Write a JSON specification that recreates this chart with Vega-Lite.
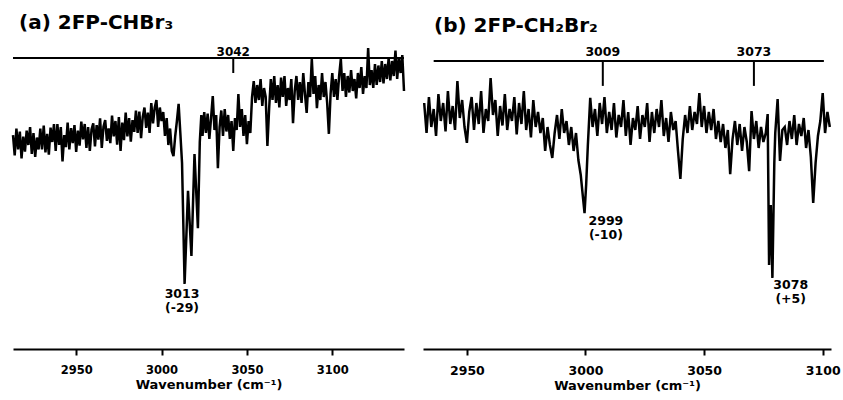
{
  "$schema": "https://vega.github.io/schema/vega-lite/v6.json",
  "background": "white",
  "padding": {"left": 8, "top": 13, "right": 5, "bottom": 0},
  "spacing": 19,
  "bounds": "flush",
  "config": {
    "view": {"stroke": null},
    "font": "DejaVu Sans",
    "axis": {"domainColor": "black", "domainWidth": 2, "tickColor": "black", "tickWidth": 2, "tickSize": 6, "labelColor": "black", "labelFont": "DejaVu Sans", "labelFontWeight": "bold", "labelFontSize": 12, "labelPadding": 9, "titleFont": "DejaVu Sans", "titleFontWeight": "bold", "titleFontSize": 13, "titleColor": "black", "titlePadding": 3, "grid": false},
    "title": {"font": "DejaVu Sans", "fontWeight": "bold", "fontSize": 20, "color": "black", "anchor": "start", "frame": "group", "offset": 10}
  },
  "datasets": {
    "a": [
      {"wn": 2913, "abs": 71.3}, {"wn": 2914, "abs": 64.5}, {"wn": 2915, "abs": 73.5}, {"wn": 2916, "abs": 66.5}, {"wn": 2917, "abs": 72.5},
      {"wn": 2918, "abs": 63.5}, {"wn": 2919, "abs": 70.8}, {"wn": 2920, "abs": 65.8}, {"wn": 2921, "abs": 72.8}, {"wn": 2922, "abs": 68},
      {"wn": 2923, "abs": 74}, {"wn": 2924, "abs": 65}, {"wn": 2925, "abs": 72}, {"wn": 2926, "abs": 64}, {"wn": 2927, "abs": 70.5},
      {"wn": 2928, "abs": 66.5}, {"wn": 2929, "abs": 73.5}, {"wn": 2930, "abs": 66.5}, {"wn": 2931, "abs": 74.5}, {"wn": 2932, "abs": 65.5},
      {"wn": 2933, "abs": 71.7}, {"wn": 2934, "abs": 64.8}, {"wn": 2935, "abs": 73.8}, {"wn": 2936, "abs": 69}, {"wn": 2937, "abs": 75},
      {"wn": 2938, "abs": 66}, {"wn": 2939, "abs": 75}, {"wn": 2940, "abs": 68}, {"wn": 2941, "abs": 74}, {"wn": 2942, "abs": 62.5},
      {"wn": 2943, "abs": 71.3}, {"wn": 2944, "abs": 67.3}, {"wn": 2945, "abs": 75.5}, {"wn": 2946, "abs": 66.5}, {"wn": 2947, "abs": 73.6},
      {"wn": 2948, "abs": 68.6}, {"wn": 2949, "abs": 74.6}, {"wn": 2950, "abs": 65.7}, {"wn": 2951, "abs": 72.8}, {"wn": 2952, "abs": 67.8},
      {"wn": 2953, "abs": 75.8}, {"wn": 2954, "abs": 69.9}, {"wn": 2955, "abs": 75}, {"wn": 2956, "abs": 67}, {"wn": 2957, "abs": 74},
      {"wn": 2958, "abs": 66}, {"wn": 2959, "abs": 73.2}, {"wn": 2960, "abs": 75.2}, {"wn": 2961, "abs": 67.5}, {"wn": 2962, "abs": 74.6},
      {"wn": 2963, "abs": 69.8}, {"wn": 2964, "abs": 76.9}, {"wn": 2965, "abs": 67}, {"wn": 2966, "abs": 74.1}, {"wn": 2967, "abs": 76.3},
      {"wn": 2968, "abs": 69.4}, {"wn": 2969, "abs": 73.5}, {"wn": 2970, "abs": 68.6}, {"wn": 2971, "abs": 77.8}, {"wn": 2972, "abs": 70.9},
      {"wn": 2973, "abs": 76}, {"wn": 2974, "abs": 68.1}, {"wn": 2975, "abs": 77.3}, {"wn": 2976, "abs": 66}, {"wn": 2977, "abs": 75.5},
      {"wn": 2978, "abs": 69.6}, {"wn": 2979, "abs": 78.8}, {"wn": 2980, "abs": 70.9}, {"wn": 2981, "abs": 77}, {"wn": 2982, "abs": 69.1},
      {"wn": 2983, "abs": 76.3}, {"wn": 2984, "abs": 72.4}, {"wn": 2985, "abs": 79.5}, {"wn": 2986, "abs": 72}, {"wn": 2987, "abs": 79.1},
      {"wn": 2988, "abs": 70.3}, {"wn": 2989, "abs": 77.4}, {"wn": 2990, "abs": 80.5}, {"wn": 2991, "abs": 73.7}, {"wn": 2992, "abs": 78.8},
      {"wn": 2993, "abs": 72}, {"wn": 2994, "abs": 82}, {"wn": 2995, "abs": 75.2}, {"wn": 2996, "abs": 80.4}, {"wn": 2997, "abs": 83},
      {"wn": 2998, "abs": 74}, {"wn": 2999, "abs": 80.5}, {"wn": 3000, "abs": 76}, {"wn": 3001, "abs": 79}, {"wn": 3002, "abs": 71},
      {"wn": 3003, "abs": 77}, {"wn": 3004, "abs": 68}, {"wn": 3005, "abs": 73.5}, {"wn": 3006, "abs": 66}, {"wn": 3007, "abs": 64.3},
      {"wn": 3008, "abs": 71}, {"wn": 3009, "abs": 76}, {"wn": 3010, "abs": 81.7}, {"wn": 3011, "abs": 72}, {"wn": 3012, "abs": 62},
      {"wn": 3013.5, "abs": 21.7}, {"wn": 3015.5, "abs": 52.7}, {"wn": 3017.5, "abs": 31}, {"wn": 3019.3, "abs": 65}, {"wn": 3021.3, "abs": 40.3},
      {"wn": 3022.4, "abs": 69}, {"wn": 3023.3, "abs": 78}, {"wn": 3024, "abs": 71}, {"wn": 3025, "abs": 79}, {"wn": 3026, "abs": 72},
      {"wn": 3027, "abs": 78.5}, {"wn": 3028, "abs": 70}, {"wn": 3029, "abs": 77}, {"wn": 3030, "abs": 84.3}, {"wn": 3031, "abs": 73},
      {"wn": 3032, "abs": 78}, {"wn": 3033, "abs": 60.3}, {"wn": 3034, "abs": 74}, {"wn": 3035, "abs": 79.5}, {"wn": 3036, "abs": 71},
      {"wn": 3037, "abs": 80}, {"wn": 3038, "abs": 72.5}, {"wn": 3039, "abs": 78}, {"wn": 3040, "abs": 70}, {"wn": 3041, "abs": 76},
      {"wn": 3042, "abs": 66}, {"wn": 3043, "abs": 77}, {"wn": 3044, "abs": 73}, {"wn": 3045, "abs": 85}, {"wn": 3046, "abs": 74},
      {"wn": 3047, "abs": 80}, {"wn": 3048, "abs": 71}, {"wn": 3049, "abs": 78}, {"wn": 3050, "abs": 68.3}, {"wn": 3051, "abs": 76},
      {"wn": 3052, "abs": 72}, {"wn": 3053, "abs": 84}, {"wn": 3054, "abs": 89.3}, {"wn": 3055, "abs": 82}, {"wn": 3056, "abs": 88},
      {"wn": 3057, "abs": 83}, {"wn": 3058, "abs": 90}, {"wn": 3059, "abs": 81}, {"wn": 3060, "abs": 87}, {"wn": 3061, "abs": 84},
      {"wn": 3062, "abs": 67.7}, {"wn": 3063, "abs": 80}, {"wn": 3064, "abs": 90}, {"wn": 3065, "abs": 83}, {"wn": 3066, "abs": 91},
      {"wn": 3067, "abs": 82}, {"wn": 3068, "abs": 88}, {"wn": 3069, "abs": 80.5}, {"wn": 3070, "abs": 90.5}, {"wn": 3071, "abs": 84},
      {"wn": 3072, "abs": 91}, {"wn": 3073, "abs": 81}, {"wn": 3074, "abs": 87}, {"wn": 3075, "abs": 83}, {"wn": 3076, "abs": 90},
      {"wn": 3077, "abs": 75.3}, {"wn": 3078, "abs": 86}, {"wn": 3079, "abs": 91}, {"wn": 3080, "abs": 83}, {"wn": 3081, "abs": 89},
      {"wn": 3082, "abs": 82}, {"wn": 3083, "abs": 92}, {"wn": 3084, "abs": 85}, {"wn": 3085, "abs": 78.7}, {"wn": 3086, "abs": 89},
      {"wn": 3087, "abs": 84}, {"wn": 3088, "abs": 96.7}, {"wn": 3089, "abs": 85}, {"wn": 3090, "abs": 91}, {"wn": 3091, "abs": 80.3},
      {"wn": 3092, "abs": 88}, {"wn": 3093, "abs": 83}, {"wn": 3094, "abs": 92}, {"wn": 3095, "abs": 84}, {"wn": 3096, "abs": 89},
      {"wn": 3097, "abs": 82}, {"wn": 3098, "abs": 71.7}, {"wn": 3099, "abs": 85}, {"wn": 3100, "abs": 92}, {"wn": 3101, "abs": 84},
      {"wn": 3102, "abs": 90}, {"wn": 3103, "abs": 83}, {"wn": 3104, "abs": 91}, {"wn": 3105, "abs": 96.7}, {"wn": 3106, "abs": 86},
      {"wn": 3107, "abs": 92}, {"wn": 3108, "abs": 84}, {"wn": 3109, "abs": 91}, {"wn": 3110, "abs": 85.5}, {"wn": 3111, "abs": 93},
      {"wn": 3112, "abs": 86}, {"wn": 3113, "abs": 90}, {"wn": 3114, "abs": 83.5}, {"wn": 3115, "abs": 92}, {"wn": 3116, "abs": 87},
      {"wn": 3117, "abs": 94}, {"wn": 3118, "abs": 85}, {"wn": 3119, "abs": 91}, {"wn": 3120, "abs": 87}, {"wn": 3121, "abs": 100.3},
      {"wn": 3122, "abs": 88}, {"wn": 3123, "abs": 93}, {"wn": 3124, "abs": 87}, {"wn": 3125, "abs": 95}, {"wn": 3126, "abs": 88},
      {"wn": 3127, "abs": 94.5}, {"wn": 3128, "abs": 89}, {"wn": 3129, "abs": 96}, {"wn": 3130, "abs": 88.5}, {"wn": 3131, "abs": 95},
      {"wn": 3132, "abs": 90}, {"wn": 3133, "abs": 97}, {"wn": 3134, "abs": 89.5}, {"wn": 3135, "abs": 96}, {"wn": 3136, "abs": 91},
      {"wn": 3137, "abs": 99.5}, {"wn": 3138, "abs": 90}, {"wn": 3139, "abs": 97}, {"wn": 3140, "abs": 92}, {"wn": 3141, "abs": 98},
      {"wn": 3142, "abs": 86}
    ],
    "b": [
      {"wn": 2932, "abs": 82}, {"wn": 2933, "abs": 72}, {"wn": 2934, "abs": 84}, {"wn": 2935, "abs": 74}, {"wn": 2936, "abs": 80},
      {"wn": 2937, "abs": 71}, {"wn": 2938, "abs": 85}, {"wn": 2939, "abs": 76}, {"wn": 2940, "abs": 82}, {"wn": 2941, "abs": 72.5},
      {"wn": 2942, "abs": 86}, {"wn": 2943, "abs": 75}, {"wn": 2944, "abs": 81}, {"wn": 2945, "abs": 73}, {"wn": 2946, "abs": 89.3},
      {"wn": 2947, "abs": 77}, {"wn": 2948, "abs": 83}, {"wn": 2949, "abs": 74}, {"wn": 2950, "abs": 68.7}, {"wn": 2951, "abs": 79},
      {"wn": 2952, "abs": 84}, {"wn": 2953, "abs": 73}, {"wn": 2954, "abs": 82}, {"wn": 2955, "abs": 75}, {"wn": 2956, "abs": 86},
      {"wn": 2957, "abs": 72}, {"wn": 2958, "abs": 80}, {"wn": 2959, "abs": 76}, {"wn": 2960, "abs": 90.3}, {"wn": 2961, "abs": 78},
      {"wn": 2962, "abs": 83}, {"wn": 2963, "abs": 71}, {"wn": 2964, "abs": 81}, {"wn": 2965, "abs": 74.5}, {"wn": 2966, "abs": 85},
      {"wn": 2967, "abs": 73}, {"wn": 2968, "abs": 80}, {"wn": 2969, "abs": 76}, {"wn": 2970, "abs": 84}, {"wn": 2971, "abs": 71.5},
      {"wn": 2972, "abs": 82}, {"wn": 2973, "abs": 75}, {"wn": 2974, "abs": 86}, {"wn": 2975, "abs": 73}, {"wn": 2976, "abs": 80},
      {"wn": 2977, "abs": 70.5}, {"wn": 2978, "abs": 83}, {"wn": 2979, "abs": 74}, {"wn": 2980, "abs": 79}, {"wn": 2981, "abs": 72},
      {"wn": 2982, "abs": 77}, {"wn": 2983, "abs": 66}, {"wn": 2984, "abs": 74}, {"wn": 2985, "abs": 68}, {"wn": 2986, "abs": 63.7},
      {"wn": 2987, "abs": 72}, {"wn": 2988, "abs": 78}, {"wn": 2989, "abs": 70}, {"wn": 2990, "abs": 80}, {"wn": 2991, "abs": 72},
      {"wn": 2992, "abs": 76}, {"wn": 2993, "abs": 68}, {"wn": 2994, "abs": 74}, {"wn": 2995, "abs": 66}, {"wn": 2996, "abs": 72},
      {"wn": 2997, "abs": 63}, {"wn": 2998, "abs": 58}, {"wn": 2999, "abs": 50}, {"wn": 2999.6, "abs": 45.3}, {"wn": 3000.3, "abs": 55},
      {"wn": 3001, "abs": 68}, {"wn": 3002, "abs": 83.7}, {"wn": 3003, "abs": 74}, {"wn": 3004, "abs": 80}, {"wn": 3005, "abs": 71},
      {"wn": 3006, "abs": 82}, {"wn": 3007, "abs": 75}, {"wn": 3008, "abs": 84}, {"wn": 3009, "abs": 72}, {"wn": 3010, "abs": 79},
      {"wn": 3011, "abs": 73}, {"wn": 3012, "abs": 82}, {"wn": 3013, "abs": 70.5}, {"wn": 3014, "abs": 78}, {"wn": 3015, "abs": 74},
      {"wn": 3016, "abs": 83}, {"wn": 3017, "abs": 71}, {"wn": 3018, "abs": 79}, {"wn": 3019, "abs": 68}, {"wn": 3020, "abs": 77},
      {"wn": 3021, "abs": 73}, {"wn": 3022, "abs": 81}, {"wn": 3023, "abs": 70}, {"wn": 3024, "abs": 78}, {"wn": 3025, "abs": 74},
      {"wn": 3026, "abs": 82}, {"wn": 3027, "abs": 69}, {"wn": 3028, "abs": 79}, {"wn": 3029, "abs": 72}, {"wn": 3030, "abs": 80},
      {"wn": 3031, "abs": 74}, {"wn": 3032, "abs": 83}, {"wn": 3033, "abs": 71}, {"wn": 3034, "abs": 77}, {"wn": 3035, "abs": 69},
      {"wn": 3036, "abs": 79}, {"wn": 3037, "abs": 73}, {"wn": 3038, "abs": 76}, {"wn": 3039, "abs": 66}, {"wn": 3040, "abs": 56.7},
      {"wn": 3041, "abs": 70}, {"wn": 3042, "abs": 78}, {"wn": 3043, "abs": 72}, {"wn": 3044, "abs": 81}, {"wn": 3045, "abs": 73},
      {"wn": 3046, "abs": 79}, {"wn": 3047, "abs": 75}, {"wn": 3048, "abs": 85.3}, {"wn": 3049, "abs": 74}, {"wn": 3050, "abs": 81},
      {"wn": 3051, "abs": 72}, {"wn": 3052, "abs": 79}, {"wn": 3053, "abs": 73}, {"wn": 3054, "abs": 80}, {"wn": 3055, "abs": 70},
      {"wn": 3056, "abs": 76}, {"wn": 3057, "abs": 69}, {"wn": 3058, "abs": 75}, {"wn": 3059, "abs": 67}, {"wn": 3060, "abs": 73},
      {"wn": 3061, "abs": 58.3}, {"wn": 3062, "abs": 70}, {"wn": 3063, "abs": 76}, {"wn": 3064, "abs": 68}, {"wn": 3065, "abs": 75},
      {"wn": 3066, "abs": 66}, {"wn": 3067, "abs": 74}, {"wn": 3068, "abs": 69}, {"wn": 3069, "abs": 59.3}, {"wn": 3070, "abs": 79.3},
      {"wn": 3071, "abs": 70}, {"wn": 3072, "abs": 76}, {"wn": 3073, "abs": 67}, {"wn": 3074, "abs": 74}, {"wn": 3075, "abs": 69},
      {"wn": 3076, "abs": 72}, {"wn": 3076.8, "abs": 78.3}, {"wn": 3077.4, "abs": 28}, {"wn": 3078.1, "abs": 48}, {"wn": 3078.8, "abs": 23.7},
      {"wn": 3079.6, "abs": 62}, {"wn": 3080, "abs": 72}, {"wn": 3081, "abs": 83.3}, {"wn": 3082, "abs": 62.7}, {"wn": 3083, "abs": 73},
      {"wn": 3084, "abs": 74}, {"wn": 3085, "abs": 68}, {"wn": 3086, "abs": 76}, {"wn": 3087, "abs": 70}, {"wn": 3088, "abs": 78},
      {"wn": 3089, "abs": 68}, {"wn": 3090, "abs": 75}, {"wn": 3091, "abs": 71}, {"wn": 3092, "abs": 77}, {"wn": 3093, "abs": 67},
      {"wn": 3094, "abs": 73}, {"wn": 3095, "abs": 64}, {"wn": 3096, "abs": 48.7}, {"wn": 3097, "abs": 62}, {"wn": 3098, "abs": 71},
      {"wn": 3099, "abs": 76}, {"wn": 3100, "abs": 85.3}, {"wn": 3101, "abs": 72}, {"wn": 3102, "abs": 79}, {"wn": 3103, "abs": 74}
    ]
  },
  "hconcat": [
    {
      "width": 391,
      "height": 300,
      "title": {"text": "(a) 2FP-CHBr₃", "dx": 6},
      "layer": [
        {
          "data": {"name": "a"},
          "mark": {"type": "line", "color": "black", "strokeWidth": 2.5},
          "encoding": {
            "x": {"field": "wn", "type": "quantitative", "scale": {"domain": [2913, 3142], "nice": false, "zero": false}, "axis": {"values": [2950, 3000, 3050, 3100], "format": "d", "title": "Wavenumber (cm⁻¹)", "labelFontSize": 11.5}},
            "y": {"field": "abs", "type": "quantitative", "scale": {"domain": [0, 100], "zero": false}, "axis": null}
          }
        },
        {
          "data": {"values": [{"start": 2913, "end": 3142, "level": 97}]},
          "mark": {"type": "rule", "color": "black", "strokeWidth": 2},
          "encoding": {"x": {"field": "start", "type": "quantitative"}, "x2": {"field": "end"}, "y": {"field": "level", "type": "quantitative"}}
        },
        {
          "data": {"values": [{"pos": 3042, "top": 97, "bottom": 92, "label": "3042"}]},
          "mark": {"type": "rule", "color": "black", "strokeWidth": 2},
          "encoding": {"x": {"field": "pos", "type": "quantitative"}, "y": {"field": "top", "type": "quantitative"}, "y2": {"field": "bottom"}}
        },
        {
          "data": {"values": [{"pos": 3042, "top": 97, "label": "3042"}]},
          "mark": {"type": "text", "baseline": "alphabetic", "dy": -2, "fontWeight": "bold", "fontSize": 12, "color": "black", "font": "DejaVu Sans"},
          "encoding": {"x": {"field": "pos", "type": "quantitative"}, "y": {"field": "top", "type": "quantitative"}, "text": {"field": "label"}}
        },
        {
          "data": {"values": [{"pos": 3012, "level": 20.3, "label": "3013\n(-29)"}]},
          "mark": {"type": "text", "baseline": "top", "lineBreak": "\n", "lineHeight": 14, "fontWeight": "bold", "fontSize": 12.5, "color": "black", "font": "DejaVu Sans"},
          "encoding": {"x": {"field": "pos", "type": "quantitative"}, "y": {"field": "level", "type": "quantitative"}, "text": {"field": "label"}}
        }
      ]
    },
    {
      "width": 408,
      "height": 300,
      "title": {"text": "(b) 2FP-CH₂Br₂", "dx": 11},
      "layer": [
        {
          "data": {"name": "b"},
          "mark": {"type": "line", "color": "black", "strokeWidth": 2.5},
          "encoding": {
            "x": {"field": "wn", "type": "quantitative", "scale": {"domain": [2931.5, 3103.5], "nice": false, "zero": false}, "axis": {"values": [2950, 3000, 3050, 3100], "format": "d", "title": "Wavenumber (cm⁻¹)", "labelFontSize": 12.5}},
            "y": {"field": "abs", "type": "quantitative", "scale": {"domain": [0, 100], "zero": false}, "axis": null}
          }
        },
        {
          "data": {"values": [{"start": 2936, "end": 3100.5, "level": 96}]},
          "mark": {"type": "rule", "color": "black", "strokeWidth": 2},
          "encoding": {"x": {"field": "start", "type": "quantitative"}, "x2": {"field": "end"}, "y": {"field": "level", "type": "quantitative"}}
        },
        {
          "data": {"values": [{"pos": 3007.3, "top": 96, "bottom": 87.7, "label": "3009"}, {"pos": 3071, "top": 96, "bottom": 87.7, "label": "3073"}]},
          "mark": {"type": "rule", "color": "black", "strokeWidth": 2},
          "encoding": {"x": {"field": "pos", "type": "quantitative"}, "y": {"field": "top", "type": "quantitative"}, "y2": {"field": "bottom"}}
        },
        {
          "data": {"values": [{"pos": 3007.3, "top": 96, "label": "3009"}, {"pos": 3071, "top": 96, "label": "3073"}]},
          "mark": {"type": "text", "baseline": "alphabetic", "dy": -5, "fontWeight": "bold", "fontSize": 12.5, "color": "black", "font": "DejaVu Sans"},
          "encoding": {"x": {"field": "pos", "type": "quantitative"}, "y": {"field": "top", "type": "quantitative"}, "text": {"field": "label"}}
        },
        {
          "data": {"values": [{"pos": 3008.6, "level": 44.7, "label": "2999\n(-10)"}, {"pos": 3086.5, "level": 23.3, "label": "3078\n(+5)"}]},
          "mark": {"type": "text", "baseline": "top", "lineBreak": "\n", "lineHeight": 14, "fontWeight": "bold", "fontSize": 12.5, "color": "black", "font": "DejaVu Sans"},
          "encoding": {"x": {"field": "pos", "type": "quantitative"}, "y": {"field": "level", "type": "quantitative"}, "text": {"field": "label"}}
        }
      ]
    }
  ]
}
